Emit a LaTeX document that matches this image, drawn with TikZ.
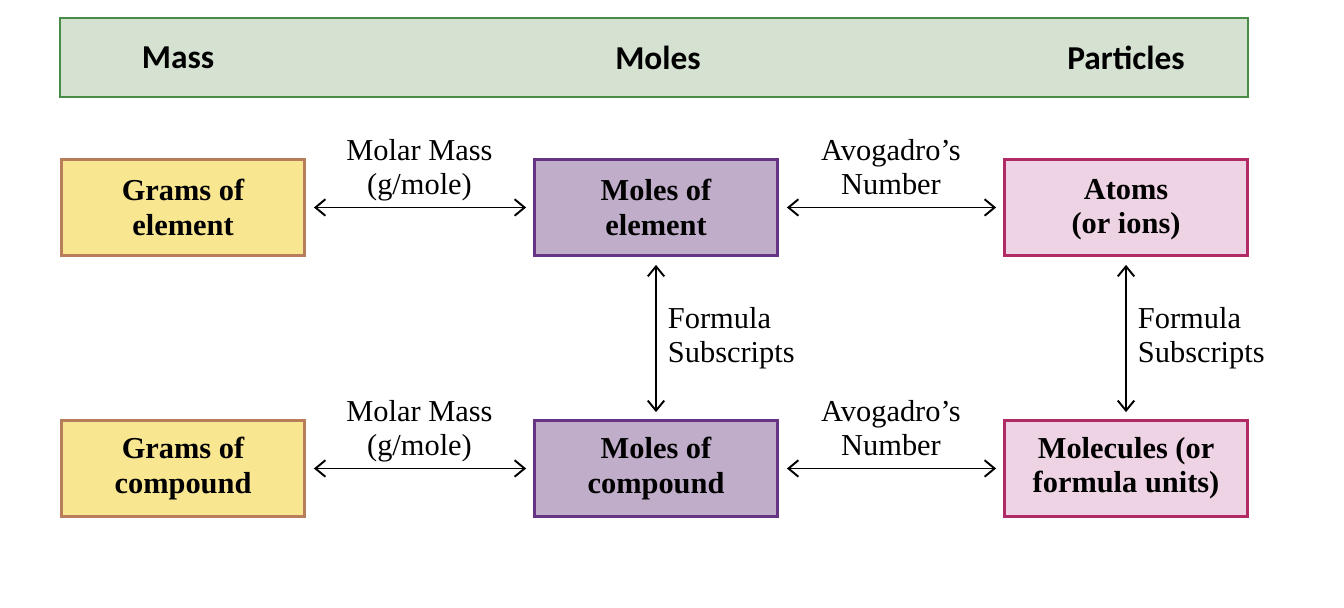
\documentclass[tikz,border=0pt]{standalone}
\usepackage{fontspec}
\setmainfont{Liberation Serif}
\newfontfamily\headfont{Carlito}
\usepackage{tikz}
\usetikzlibrary{arrows.meta,positioning}
\usepackage{xcolor}
\definecolor{headfill}{RGB}{213,226,210}
\definecolor{headline}{RGB}{72,140,72}
\definecolor{massfill}{RGB}{249,230,145}
\definecolor{massline}{RGB}{184,126,92}
\definecolor{molefill}{RGB}{191,173,201}
\definecolor{moleline}{RGB}{102,52,132}
\definecolor{partfill}{RGB}{237,211,227}
\definecolor{partline}{RGB}{176,42,102}

\begin{document}
\begin{tikzpicture}[
    box/.style={draw, line width=1.6pt, minimum width=4.86cm, minimum height=1.92cm,
        align=center, font=\fontsize{17.3}{19.5}\selectfont\bfseries},
    massbox/.style={box, fill=massfill, draw=massline},
    molebox/.style={box, fill=molefill, draw=moleline},
    partbox/.style={box, fill=partfill, draw=partline},
    conv/.style={{Straight Barb[length=2mm,width=3.3mm]}-{Straight Barb[length=2mm,width=3.3mm]}, line width=1.1pt, shorten <=0.16cm, shorten >=0.14cm},
    lbl/.style={font=\fontsize{17.3}{19.5}\selectfont, align=center, inner sep=0pt},
    head/.style={font=\headfont\fontsize{19}{22}\selectfont\bfseries}
]
\useasboundingbox (0,0) rectangle (26.88,12.16);
% header bar
\draw[headline, fill=headfill, line width=1.6pt] (1.2,10.22) rectangle (24.96,11.8);
\node[head] (hmass) at (3.56,11.0) {Mass};
\node[head] (hmole) at (13.16,11.0) {Moles};
\node[head] (hpart) at (22.52,11.0) {Particles};
% boxes
\node[massbox] (gel) at (3.66,8.01) {Grams of\\element};
\node[molebox] (mel) at (13.12,8.01) {Moles of\\element};
\node[partbox] (atm) at (22.52,8.01) {\strut Atoms\\(or ions)};
\node[massbox] (gco) at (3.66,2.79) {Grams of\\compound};
\node[molebox] (mco) at (13.12,2.79) {Moles of\\compound};
\node[partbox] (mol) at (22.52,2.79) {Molecules (or\\formula units)};
% conversions
\draw[conv] (gel) -- (mel) node[midway, above=0.03cm, lbl] {\strut Molar Mass\\\strut(g/mole)};
\draw[conv] (mel) -- (atm) node[midway, above=0.03cm, lbl] {\strut Avogadro's\\\strut Number};
\draw[conv] (gco) -- (mco) node[midway, above=0.03cm, lbl] {\strut Molar Mass\\\strut(g/mole)};
\draw[conv] (mco) -- (mol) node[midway, above=0.03cm, lbl] {\strut Avogadro's\\\strut Number};
\draw[conv] (mel) -- (mco) node[midway, right=0.22cm, lbl, align=left] {Formula\\Subscripts};
\draw[conv] (atm) -- (mol) node[midway, right=0.22cm, lbl, align=left] {Formula\\Subscripts};
\end{tikzpicture}
\end{document}
